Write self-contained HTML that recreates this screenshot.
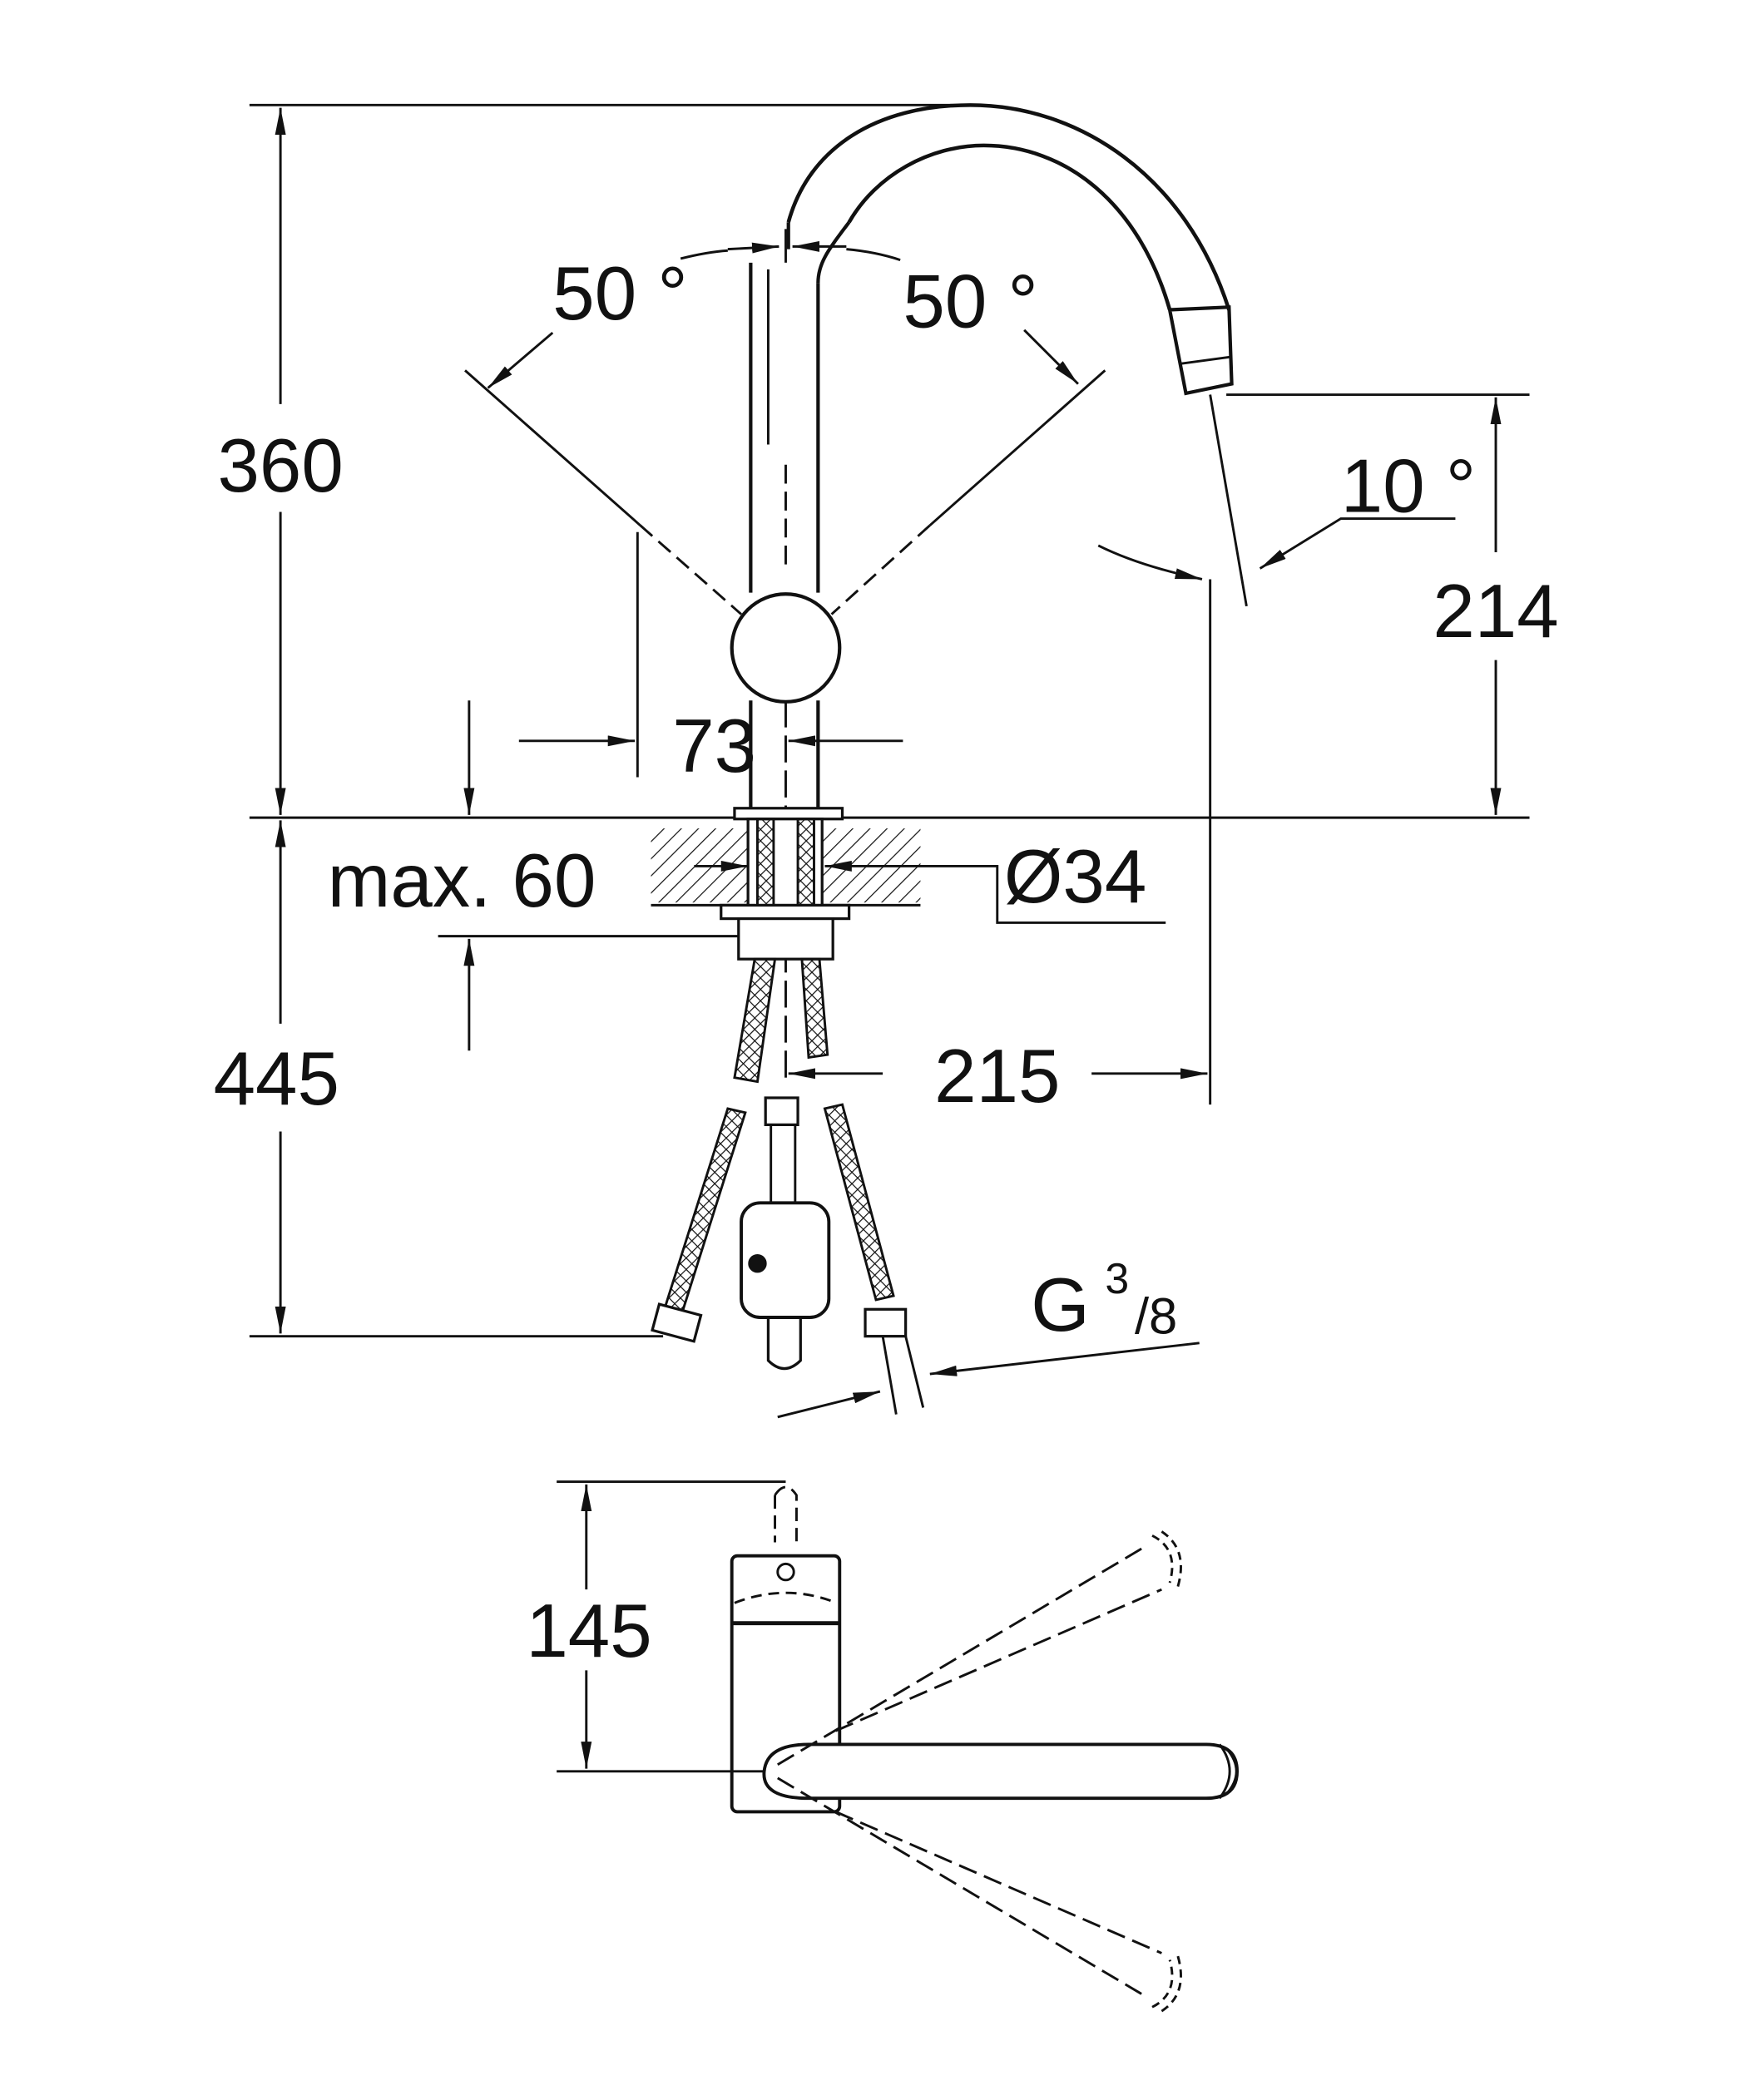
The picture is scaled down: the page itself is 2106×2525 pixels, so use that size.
<!DOCTYPE html>
<html><head><meta charset="utf-8"><style>
html,body{margin:0;padding:0;background:#fff}
svg{display:block}
text{font-family:"Liberation Sans",sans-serif;fill:#111}
</style></head><body>
<svg width="2106" height="2525" viewBox="0 0 1300 1559" xmlns="http://www.w3.org/2000/svg">
<defs>
<marker id="a" viewBox="0 0 20 8" refX="20" refY="4" markerWidth="20" markerHeight="8" orient="auto" markerUnits="userSpaceOnUse"><path d="M0,0 L20,4 L0,8z" fill="#111"/></marker>
<pattern id="h" width="9" height="9" patternUnits="userSpaceOnUse" patternTransform="rotate(45)"><line x1="0" y1="0" x2="0" y2="9" stroke="#111" stroke-width="1.5"/></pattern>
<pattern id="x" width="6" height="6" patternUnits="userSpaceOnUse" patternTransform="rotate(45)"><path d="M0,0 L0,6 M0,0 L6,0" stroke="#111" stroke-width="1.5"/></pattern>
</defs>
<g stroke="#111" stroke-width="1.8" fill="none">
<line x1="185" y1="78" x2="720" y2="78"/>
<line x1="185" y1="607" x2="1135" y2="607"/>
<line x1="185" y1="992" x2="492" y2="992"/>
<line x1="910" y1="293" x2="1135" y2="293"/>
<line x1="208" y1="300" x2="208" y2="80" marker-end="url(#a)"/>
<line x1="208" y1="380" x2="208" y2="605" marker-end="url(#a)"/>
<line x1="208" y1="760" x2="208" y2="609" marker-end="url(#a)"/>
<line x1="208" y1="840" x2="208" y2="990" marker-end="url(#a)"/>
<line x1="1110" y1="410" x2="1110" y2="295" marker-end="url(#a)"/>
<line x1="1110" y1="490" x2="1110" y2="605" marker-end="url(#a)"/>
<path d="M585,165 C600,110 650,78 720,78 C800,78 880,130 912,230" stroke-width="2.8"/>
<path d="M630,165 C650,130 690,108 730,108 C790,108 845,150 868,230" stroke-width="2.8"/>
<path d="M868,230 L912,228 L914,285 L880,292 Z" stroke-width="2.6"/>
<line x1="876" y1="270" x2="913" y2="265"/>
<path d="M557,195 L557,440 M557,520 L557,600 M607,210 L607,440 M607,520 L607,600" stroke-width="2.6"/>
<path d="M585,165 L585,185 M630,165 C615,185 607,195 607,210" stroke-width="2.6"/>
<line x1="570" y1="200" x2="570" y2="330"/><line x1="583" y1="345" x2="583" y2="420" stroke-dasharray="14 6"/>
<line x1="583" y1="520" x2="583" y2="800" stroke-dasharray="20 6"/>
<circle cx="583" cy="481" r="40" stroke-width="2.6"/>
<line x1="345" y1="275" x2="475" y2="390"/>
<line x1="475" y1="390" x2="550" y2="456" stroke-dasharray="12 6"/>
<line x1="820" y1="275" x2="690" y2="390"/>
<line x1="690" y1="390" x2="617" y2="456" stroke-dasharray="12 6"/>
<path d="M505,192 Q525,187 540,186"/>
<line x1="410" y1="247" x2="362" y2="288" marker-end="url(#a)"/>
<line x1="540" y1="185" x2="578" y2="183" marker-end="url(#a)"/>
<line x1="628" y1="183" x2="588" y2="183" marker-end="url(#a)"/>
<path d="M628,185 Q650,187 668,193"/>
<path d="M760,245 L800,285" marker-end="url(#a)"/>
<line x1="583" y1="170" x2="583" y2="195"/>
<line x1="898" y1="293" x2="925" y2="450"/>
<line x1="898" y1="430" x2="898" y2="820"/>
<path d="M1080,385 L995,385 L935,422" marker-end="url(#a)"/>
<path d="M815,405 Q845,420 892,430" marker-end="url(#a)"/>
<line x1="473" y1="395" x2="473" y2="577"/>
<line x1="385" y1="550" x2="471" y2="550" marker-end="url(#a)"/>
<line x1="670" y1="550" x2="585" y2="550" marker-end="url(#a)"/>
<line x1="348" y1="520" x2="348" y2="605" marker-end="url(#a)"/>
<line x1="348" y1="780" x2="348" y2="697" marker-end="url(#a)"/>
<line x1="325" y1="695" x2="552" y2="695"/>
<rect x="483" y="615" width="200" height="55" fill="url(#h)" stroke="none"/>
<line x1="483" y1="672" x2="683" y2="672"/>
<rect x="545" y="600" width="80" height="8" fill="#fff" stroke-width="2"/>
<rect x="555" y="608" width="55" height="70" fill="#fff" stroke-width="2"/>
<rect x="562" y="608" width="12" height="70" fill="url(#x)"/>
<rect x="592" y="608" width="12" height="70" fill="url(#x)"/>
<rect x="535" y="672" width="95" height="10" fill="#fff" stroke-width="2"/>
<rect x="548" y="682" width="70" height="30" fill="#fff" stroke-width="2"/>
<line x1="515" y1="643" x2="555" y2="643" marker-end="url(#a)"/>
<line x1="650" y1="643" x2="612" y2="643" marker-end="url(#a)"/>
<path d="M650,643 L740,643 L740,685 L865,685"/>
<line x1="655" y1="797" x2="585" y2="797" marker-end="url(#a)"/>
<line x1="810" y1="797" x2="896" y2="797" marker-end="url(#a)"/>
<path d="M560,712 L545,800 L562,803 L575,712 Z" fill="url(#x)"/>
<path d="M595,712 L600,785 L614,783 L608,712 Z" fill="url(#x)"/>
<path d="M540,823 L492,975 L505,978 L553,826 Z" fill="url(#x)"/>
<path d="M612,823 L650,965 L663,962 L625,820 Z" fill="url(#x)"/>
<rect x="486" y="972" width="32" height="20" transform="rotate(15 502 982)" fill="#fff" stroke-width="2"/>
<rect x="642" y="972" width="30" height="20" fill="#fff" stroke-width="2"/>
<line x1="655" y1="992" x2="665" y2="1050"/><line x1="672" y1="992" x2="685" y2="1045"/>
<rect x="568" y="815" width="24" height="20" stroke-width="2"/>
<line x1="572" y1="835" x2="572" y2="895"/><line x1="590" y1="835" x2="590" y2="895"/>
<rect x="550" y="893" width="65" height="85" rx="14" fill="#fff" stroke-width="2.4"/>
<circle cx="562" cy="938" r="6" fill="#111"/>
<path d="M570,978 L570,1010 Q582,1022 594,1010 L594,978" stroke-width="2"/>
<line x1="577" y1="1052" x2="653" y2="1033" marker-end="url(#a)"/>
<line x1="890" y1="997" x2="690" y2="1020" marker-end="url(#a)"/>
<line x1="413" y1="1100" x2="583" y2="1100"/>
<line x1="413" y1="1315" x2="575" y2="1315"/>
<line x1="435" y1="1180" x2="435" y2="1102" marker-end="url(#a)"/>
<line x1="435" y1="1240" x2="435" y2="1313" marker-end="url(#a)"/>
<path d="M575,1110 Q583,1098 591,1110 L591,1145 M575,1110 L575,1145" stroke-dasharray="10 5"/>
<path d="M545,1190 Q583,1175 621,1190" stroke-dasharray="8 5"/>
<circle cx="583" cy="1167" r="6"/>
<rect x="543" y="1155" width="80" height="190" rx="4" stroke-width="2.4"/>
<line x1="543" y1="1205" x2="623" y2="1205" stroke-width="3"/>
<path d="M600,1295 L895,1295 Q918,1295 918,1315 Q918,1335 895,1335 L600,1335 Q565,1335 567,1315 Q569,1295 600,1295 Z" fill="#fff" stroke-width="2.4"/>
<path d="M905,1295 Q920,1315 905,1335 M910,1298 Q925,1315 910,1332"/>
<line x1="577" y1="1310" x2="850" y2="1148" stroke-dasharray="14 6"/>
<line x1="620" y1="1285" x2="862" y2="1180" stroke-dasharray="14 6"/>
<line x1="577" y1="1320" x2="850" y2="1482" stroke-dasharray="14 6"/>
<line x1="620" y1="1345" x2="862" y2="1450" stroke-dasharray="14 6"/>
<path d="M855,1140 Q875,1150 868,1175 M862,1137 Q882,1150 874,1178" stroke-dasharray="6 4"/>
<path d="M855,1490 Q875,1480 868,1455 M862,1493 Q882,1480 874,1452" stroke-dasharray="6 4"/>
</g>
<g font-size="56">
<text x="208" y="365" text-anchor="middle">360</text>
<text x="205" y="820" text-anchor="middle">445</text>
<text x="1110" y="473" text-anchor="middle">214</text>
<text x="410" y="237">50 °</text>
<text x="670" y="243">50 °</text>
<text x="995" y="380">10 °</text>
<text x="530" y="573" text-anchor="middle">73</text>
<text x="243" y="673">max. 60</text>
<text x="745" y="670">Ø34</text>
<text x="740" y="818" text-anchor="middle">215</text>
<text x="437" y="1230" text-anchor="middle">145</text>
<text x="765" y="988">G</text>
</g>
<text x="820" y="960" font-size="32">3</text>
<text x="842" y="990" font-size="38">/8</text>
</svg>
</body></html>
